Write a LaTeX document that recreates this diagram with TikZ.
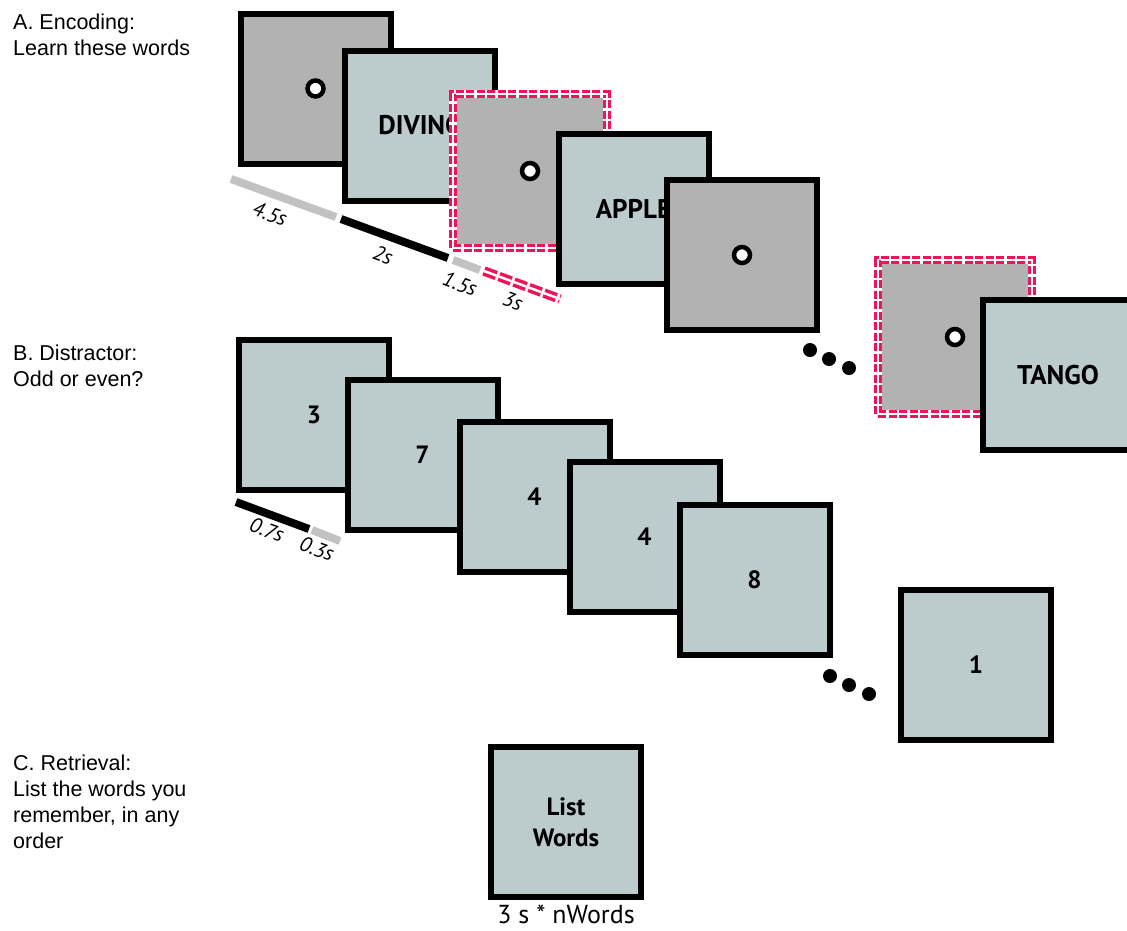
\documentclass[tikz,border=0pt]{standalone}
\usepackage{fontspec}
\setmainfont{Liberation Sans}
\newfontfamily\screenfont{PT Sans}
\usetikzlibrary{positioning}
\definecolor{wordgray}{HTML}{BCCBCB}
\definecolor{fixgray}{HTML}{B2B2B2}
\definecolor{bargray}{HTML}{C2C2C2}
\definecolor{cuepink}{HTML}{EE1459}

\begin{document}
\begin{tikzpicture}[x=1pt,y=-1pt,
  screen/.style={draw=black,line width=6pt,minimum size=150pt,inner sep=0pt,
    font=\screenfont\bfseries\fontsize{27}{30}\selectfont},
  word/.style={screen,fill=wordgray},
  number/.style={word,font=\screenfont\bfseries\fontsize{25}{28}\selectfont},
  fixscreen/.style={screen,fill=fixgray},
  cuescreen/.style={fill=fixgray,minimum size=154pt,inner sep=0pt},
  cueback/.style={draw=white,line width=8pt},
  cueframe/.style={draw=cuepink,line width=3pt,double=white,double distance=2pt,
    dash pattern=on 8pt off 2.5pt},
  fixdot/.style={circle,draw=black,fill=white,line width=4.5pt,minimum size=16pt,inner sep=0pt},
  ellip/.style={circle,fill=black,minimum size=14pt,inner sep=0pt},
  phase/.style={anchor=base west,align=left,inner sep=0pt,
    font=\fontsize{21.5}{26}\selectfont},
  dur/.style={rotate=-20,inner sep=0pt,font=\screenfont\itshape\fontsize{21}{21}\selectfont},
  bar/.style={line width=8pt},
  cuebar/.style={draw=cuepink,line width=3.5pt,double=white,double distance=2.5pt,
    dash pattern=on 13pt off 3pt}
]
\path[use as bounding box,clip] (0,0) rectangle (1127,930);

% section titles (placed by the baseline of their last line)
\node[phase] (encoding) at (13,55) {A. Encoding:\\Learn these words};
\node[phase] (distractor) at (13,386) {B. Distractor:\\Odd or even?};
\node[phase] (retrieval) at (13,848) {C. Retrieval:\\List the words you\\remember, in any\\order};

% encoding screens
\node[fixscreen] (fix1) at (315.5,88.5) {};
\node[fixdot] (dot1) at (fix1) {};
\node[word] (word1) at (420,125.5) {DIVING};
\node[cuescreen] (cue1) at (530,171) {};
\draw[cueback] (cue1.south west) rectangle (cue1.north east);
\draw[cueframe] (cue1.south west) rectangle (cue1.north east);
\node[fixdot] (dot2) at (cue1) {};
\node[word] (word2) at (633.5,208.5) {APPLE};
\node[fixscreen] (fix2) at (742,255) {};
\node[fixdot] (dot3) at (fix2) {};
\foreach \i/\x/\y in {1/810/350,2/829/359,3/849/368}
  \node[ellip] (encmore\i) at (\x,\y) {};
\node[cuescreen] (cue2) at (955,337) {};
\draw[cueback] (cue2.south west) rectangle (cue2.north east);
\draw[cueframe] (cue2.south west) rectangle (cue2.north east);
\node[fixdot] (dot4) at (cue2) {};
\node[word] (word3) at (1058,375) {TANGO};

% encoding timing
\coordinate (t0) at (231,179);
\coordinate (t1) at (336,217);
\coordinate (t2) at (341,219);
\coordinate (t3) at (448,258);
\coordinate (t4) at (453,260);
\coordinate (t5) at (480,270);
\coordinate (t6) at (484,271);
\coordinate (t7) at (560,299);
\draw[bar,bargray] (t0) -- (t1);
\draw[bar,black] (t2) -- (t3);
\draw[bar,bargray] (t4) -- (t5);
\draw[cuebar] (t6) -- (t7);
\node[dur] (d1) at (270,214) {4.5s};
\node[dur] (d2) at (383,255) {2s};
\node[dur] (d3) at (460,284) {1.5s};
\node[dur] (d4) at (513,301) {3s};

% distractor screens
\node[number] (num1) at (314,415) {3};
\node[number] (num2) at (422.5,454.5) {7};
\node[number] (num3) at (534.5,496.5) {4};
\node[number] (num4) at (644.5,537) {4};
\node[number] (num5) at (754.5,579.5) {8};
\foreach \i/\x/\y in {1/830,2/849,3/869}
  \node[ellip] (dismore\i) at (\x,{676+(\i-1)*9}) {};
\node[number] (num6) at (976,665) {1};

% distractor timing
\coordinate (s0) at (236,502);
\coordinate (s1) at (309,529);
\coordinate (s2) at (312,530);
\coordinate (s3) at (340,541);
\draw[bar,black] (s0) -- (s1);
\draw[bar,bargray] (s2) -- (s3);
\node[dur] (d5) at (267,530) {0.7s};
\node[dur] (d6) at (317,549) {0.3s};

% retrieval screen
\node[word,align=center,font=\screenfont\bfseries\fontsize{25}{31}\selectfont] (list) at (566,822) {List\\Words};
\node[below=5pt of list,inner sep=0pt,font=\screenfont\fontsize{26}{26}\selectfont] (listtime) {3 s * nWords};
\end{tikzpicture}
\end{document}
